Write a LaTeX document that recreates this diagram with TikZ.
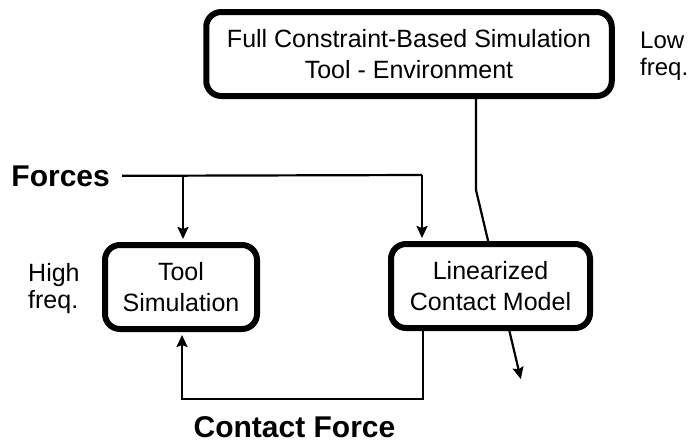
\documentclass[tikz,border=0pt]{standalone}
\usepackage{fontspec}
\setmainfont{Liberation Sans}
\usetikzlibrary{arrows.meta,backgrounds}
\begin{document}
\begin{tikzpicture}[x=1pt,y=-1pt,
  blk/.style={draw, line width=6pt, rounded corners=15pt, fill=white, align=center,
    font=\fontsize{25}{30.5}\selectfont, inner sep=0pt},
  lbl/.style={align=left, inner sep=0pt, font=\fontsize{25}{26.5}\selectfont},
  boldlbl/.style={inner sep=0pt, font=\fontsize{30}{32}\selectfont\bfseries},
  conn/.style={line width=2.2pt},
  arr/.style={conn, -{Stealth[length=12pt,width=11pt,inset=2pt]}, shorten >=3pt}]
\useasboundingbox (0,0) rectangle (692,442);
\node[blk, minimum width=405.5pt, minimum height=84pt] (full) at (409,54)
  {Full Constraint-Based Simulation\\Tool - Environment};
\node[blk, minimum width=152pt, minimum height=84pt] (tool) at (181,287)
  {Tool\\Simulation};
\node[blk, minimum width=199pt, minimum height=84pt] (lin) at (490.5,286)
  {Linearized\\Contact Model};
\node[lbl, anchor=base west, font=\fontsize{24}{27}\selectfont] (low) at (640,75) {Low\\freq.};
\node[lbl, anchor=base west] (high) at (28,308) {High\\freq.};
\node[boldlbl, anchor=base east, inner xsep=12pt] (forces) at (122,186) {Forces};
\node[boldlbl, anchor=base] (cf) at (294.5,437.5) {Contact Force};
\coordinate (j1) at (183,175);
\coordinate (j2) at (422,175);
\coordinate (bend) at (476,190);
\coordinate (tipfull) at (521.5,382);
\coordinate (c1) at (423,399);
\coordinate (c2) at (182,399);
\begin{pgfonlayer}{background}
  \draw[conn] (forces.east) -- (j2);
  \draw[arr] (j2) -- (j2 |- lin.north);
  \draw[arr] (j1) -- (j1 |- tool.north);
  \draw[arr] (full.south -| bend) -- (bend) -- (tipfull);
  \draw[arr] (c1 |- lin.south) -- (c1) -- (c2) -- (c2 |- tool.south);
\end{pgfonlayer}
\end{tikzpicture}
\end{document}
